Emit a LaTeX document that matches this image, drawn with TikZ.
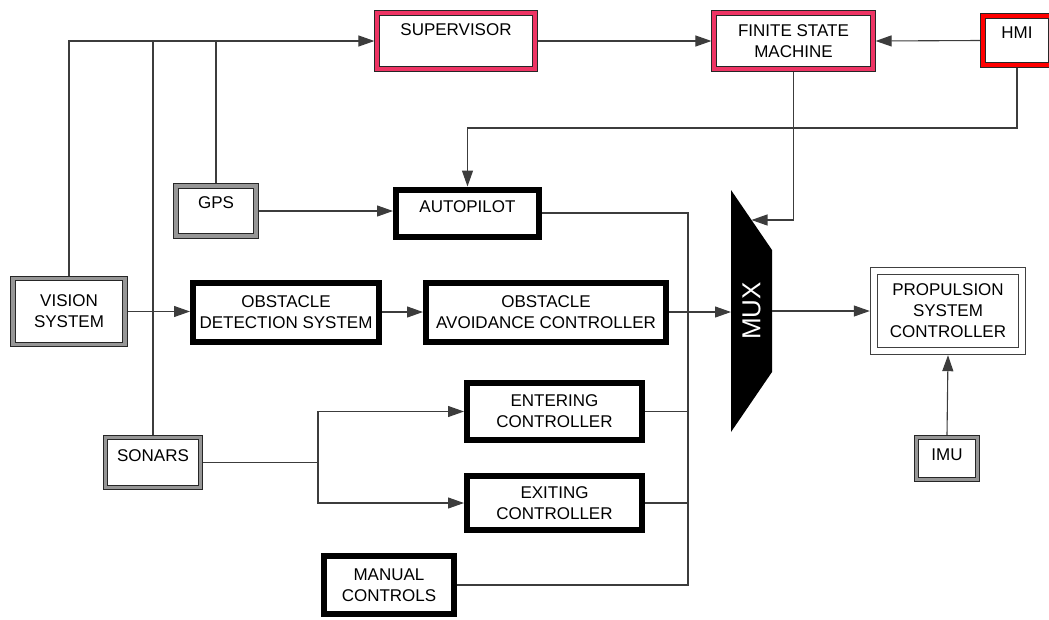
\documentclass[tikz,border=0pt]{standalone}
\usepackage{fontspec}
\setmainfont{Liberation Sans}
\usetikzlibrary{arrows.meta}

\definecolor{supred}{RGB}{238,52,100}
\definecolor{hmired}{RGB}{255,0,0}
\definecolor{sensgray}{RGB}{150,150,150}
\definecolor{wiregray}{RGB}{60,60,60}

\tikzset{
  sensor/.style={draw=black!85, double=sensgray, double distance=3.8pt, line width=0.7pt,
    fill=white, align=center, inner sep=0pt, outer sep=2.6pt},
  supbox/.style={sensor, double=supred},
  hmibox/.style={sensor, double=hmired, double distance=4.4pt, outer sep=2.9pt},
  ctrl/.style={draw=black, line width=6pt, fill=white, align=center, inner sep=0pt, outer sep=3pt},
  outbox/.style={draw=black!75, double=white, double distance=6.6pt, line width=0.9pt,
    fill=white, align=center, inner sep=0pt, outer sep=4.2pt},
  wire/.style={draw=wiregray, line width=1.1pt},
  arr/.style={wire, -{Triangle[length=16pt,width=11pt]}},
}

\begin{document}
\begin{tikzpicture}[x=1pt,y=1pt,yscale=-1,font=\fontsize{17}{21}\selectfont]
  \useasboundingbox (0,0) rectangle (1049,619);

  %Shape: Rectangle (top row)
  \node[supbox, minimum width=158pt, minimum height=56pt, text depth=22pt] (sup) at (456,41) {SUPERVISOR};
  \node[supbox, minimum width=159pt, minimum height=56pt] (fsm) at (793.5,41) {FINITE STATE\\MACHINE};
  \node[hmibox, minimum width=68pt, minimum height=49pt, text depth=15pt] (hmi) at (1017,40.5) {HMI};

  %Shape: Rectangle (sensors)
  \node[sensor, minimum width=80pt, minimum height=50pt, text depth=16pt] (gps) at (216,211) {GPS};
  \node[sensor, minimum width=112pt, minimum height=66pt] (vis) at (69,311.5) {VISION\\SYSTEM};
  \node[sensor, minimum width=95pt, minimum height=50pt, text depth=13pt] (son) at (153,462.5) {SONARS};
  \node[sensor, minimum width=61pt, minimum height=42pt, text depth=7pt] (imu) at (947,458.5) {IMU};

  %Shape: Rectangle (controllers)
  \node[ctrl, minimum width=143pt, minimum height=47pt, text depth=12pt] (ap) at (467.5,213) {AUTOPILOT};
  \node[ctrl, minimum width=186pt, minimum height=59pt] (ods) at (286,312) {OBSTACLE\\DETECTION SYSTEM};
  \node[ctrl, minimum width=240pt, minimum height=59pt] (oac) at (546,312) {OBSTACLE\\AVOIDANCE CONTROLLER};
  \node[ctrl, minimum width=175pt, minimum height=57pt] (ent) at (554.5,411.5) {ENTERING\\CONTROLLER};
  \node[ctrl, minimum width=175pt, minimum height=54pt] (ext) at (554.5,503) {EXITING\\CONTROLLER};
  \node[ctrl, minimum width=130pt, minimum height=58pt] (man) at (389,585) {MANUAL\\CONTROLS};

  %Shape: Rectangle (output)
  \node[outbox, minimum width=148pt, minimum height=80pt] (psc) at (948,311) {PROPULSION\\SYSTEM\\CONTROLLER};

  %Shape: Trapezoid (mux)
  \fill (731,190) -- (772,250) -- (772,372) -- (731,432) -- cycle;
  % Text Node
  \node[text=white, rotate=90, inner sep=0pt, font=\fontsize{26}{30}\selectfont] (muxlbl) at (751.5,311) {MUX};

  \coordinate (muxin) at (731,312);
  \coordinate (muxout) at (772,311);
  \coordinate (muxsel) at (751.5,220);
  \coordinate (hmibend) at (1017,128);
  \coordinate (bus) at (688,0);
  \coordinate (sonsplit) at (318,462.5);

  % Connectors
  \draw[arr] (vis.north) |- (sup.west);
  \draw[wire] (son.north) -- (son.north |- sup.west);
  \draw[wire] (gps.north) -- (gps.north |- sup.west);
  \draw[arr] (sup.east) -- (fsm.west);
  \draw[arr] (hmi.west) -- (fsm.east);
  \draw[arr] (hmi.south) -- (hmibend) -| (ap.north);
  \draw[arr] (fsm.south) |- (muxsel);
  \draw[arr] (gps.east) -- (gps.east -| ap.west);
  \draw[wire] (ap.east) -| (bus |- man.east) -- (man.east);
  \draw[wire] (ent.east) -- (ent.east -| bus);
  \draw[wire] (ext.east) -- (ext.east -| bus);
  \draw[arr] (vis.east) -- (vis.east -| ods.west);
  \draw[arr] (ods.east) -- (oac.west);
  \draw[arr] (oac.east) -- (muxin);
  \draw[arr] (muxout) -- (muxout -| psc.west);
  \draw[arr] (imu.north) -- (psc.south);
  \draw[wire] (son.east) -- (sonsplit);
  \draw[arr] (sonsplit) |- (ent.west);
  \draw[arr] (sonsplit) |- (ext.west);
\end{tikzpicture}
\end{document}
